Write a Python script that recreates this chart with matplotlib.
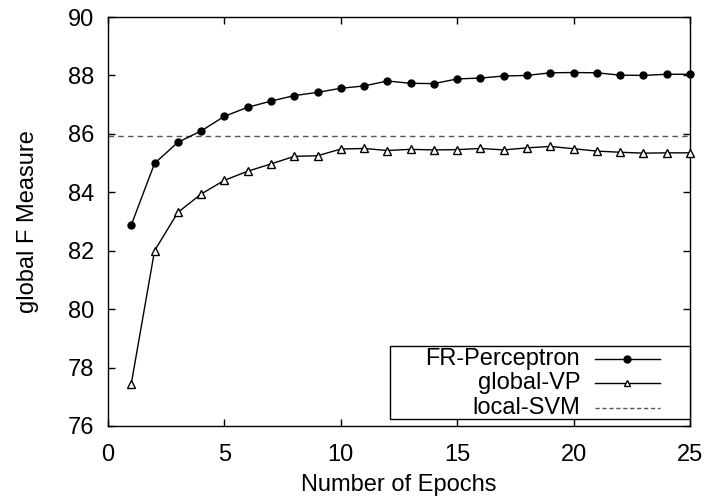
import matplotlib
matplotlib.use("Agg")
import matplotlib.pyplot as plt
from matplotlib.patches import Rectangle

plt.rcParams['font.family'] = ['Liberation Sans', 'DejaVu Sans']

epochs = list(range(1, 26))
fr_perceptron = [82.88, 84.99, 85.71, 86.10, 86.60, 86.91, 87.12, 87.31, 87.42, 87.56,
                 87.64, 87.81, 87.73, 87.72, 87.88, 87.91, 87.98, 88.00, 88.09, 88.10,
                 88.09, 88.01, 88.00, 88.04, 88.04]
global_vp = [77.45, 82.00, 83.31, 83.94, 84.41, 84.72, 84.97, 85.23, 85.25, 85.48,
             85.50, 85.43, 85.47, 85.45, 85.46, 85.50, 85.45, 85.52, 85.57, 85.49,
             85.41, 85.37, 85.34, 85.35, 85.35]
local_svm = 85.92
labels = ["FR-Perceptron", "global-VP", "local-SVM"]
xticks = [0, 5, 10, 15, 20, 25]
yticks = [76, 78, 80, 82, 84, 86, 88, 90]

fig = plt.figure(figsize=(7.08, 5.03), dpi=100)
ax = fig.add_axes([108/708, 1-426/503, 582/708, 409/503])

fs = 17
ax.axhline(local_svm, color='#555555', lw=1.0, ls=(0, (4, 3)), zorder=1)
ax.plot(epochs, fr_perceptron, color='black', lw=1.0, marker='o', ms=5,
        mfc='black', mec='black', zorder=3, clip_on=False)
ax.plot(epochs, global_vp, color='black', lw=1.0, marker='^', ms=6,
        mfc='white', mec='black', mew=1.0, zorder=3, clip_on=False)

ax.set_xlim(0, 25)
ax.set_ylim(76, 90)
ax.set_xticks(xticks)
ax.set_yticks(yticks)
ax.tick_params(direction='in', length=5, width=1.0, top=True, right=True,
               labelsize=fs)
ax.tick_params(axis='x', pad=13)
ax.tick_params(axis='y', pad=10)
for s in ax.spines.values():
    s.set_linewidth(1.0)

ax.set_xlabel("Number of Epochs", fontsize=fs)
ax.set_ylabel("global F Measure", fontsize=fs)
ax.xaxis.set_label_coords(0.5, (426-485)/409)
ax.xaxis.label.set_va('center')
ax.yaxis.set_label_coords((28-108)/582, 0.5)
ax.yaxis.label.set_va('center')

# gnuplot-style legend
T = ax.transAxes
ax.add_patch(Rectangle((0.4845, 0.017), 1-0.4845, 0.1956-0.017, transform=T,
                       fill=True, facecolor='white', edgecolor='black', lw=1.0,
                       zorder=5, clip_on=False))
row_y = [0.164, 0.105, 0.044]
styles = [dict(color='black', lw=1.0, ls='-'),
          dict(color='black', lw=1.0, ls='-'),
          dict(color='#555555', lw=1.0, ls=(0, (3, 2)))]
markers = [dict(marker='o', ms=5, mfc='black', mec='black'),
           dict(marker='^', ms=4.5, mfc='white', mec='black'),
           None]
for lab, yy, st, mk in zip(labels, row_y, styles, markers):
    ax.text(0.811, yy, lab, transform=T, ha='right', va='center', fontsize=fs, zorder=6)
    ax.plot([0.837, 0.948], [yy, yy], transform=T, clip_on=False, zorder=6, **st)
    if mk is not None:
        ax.plot([(0.837+0.948)/2], [yy], transform=T, clip_on=False, zorder=7,
                ls='none', **mk)

fig.savefig("out.png", dpi=100)
